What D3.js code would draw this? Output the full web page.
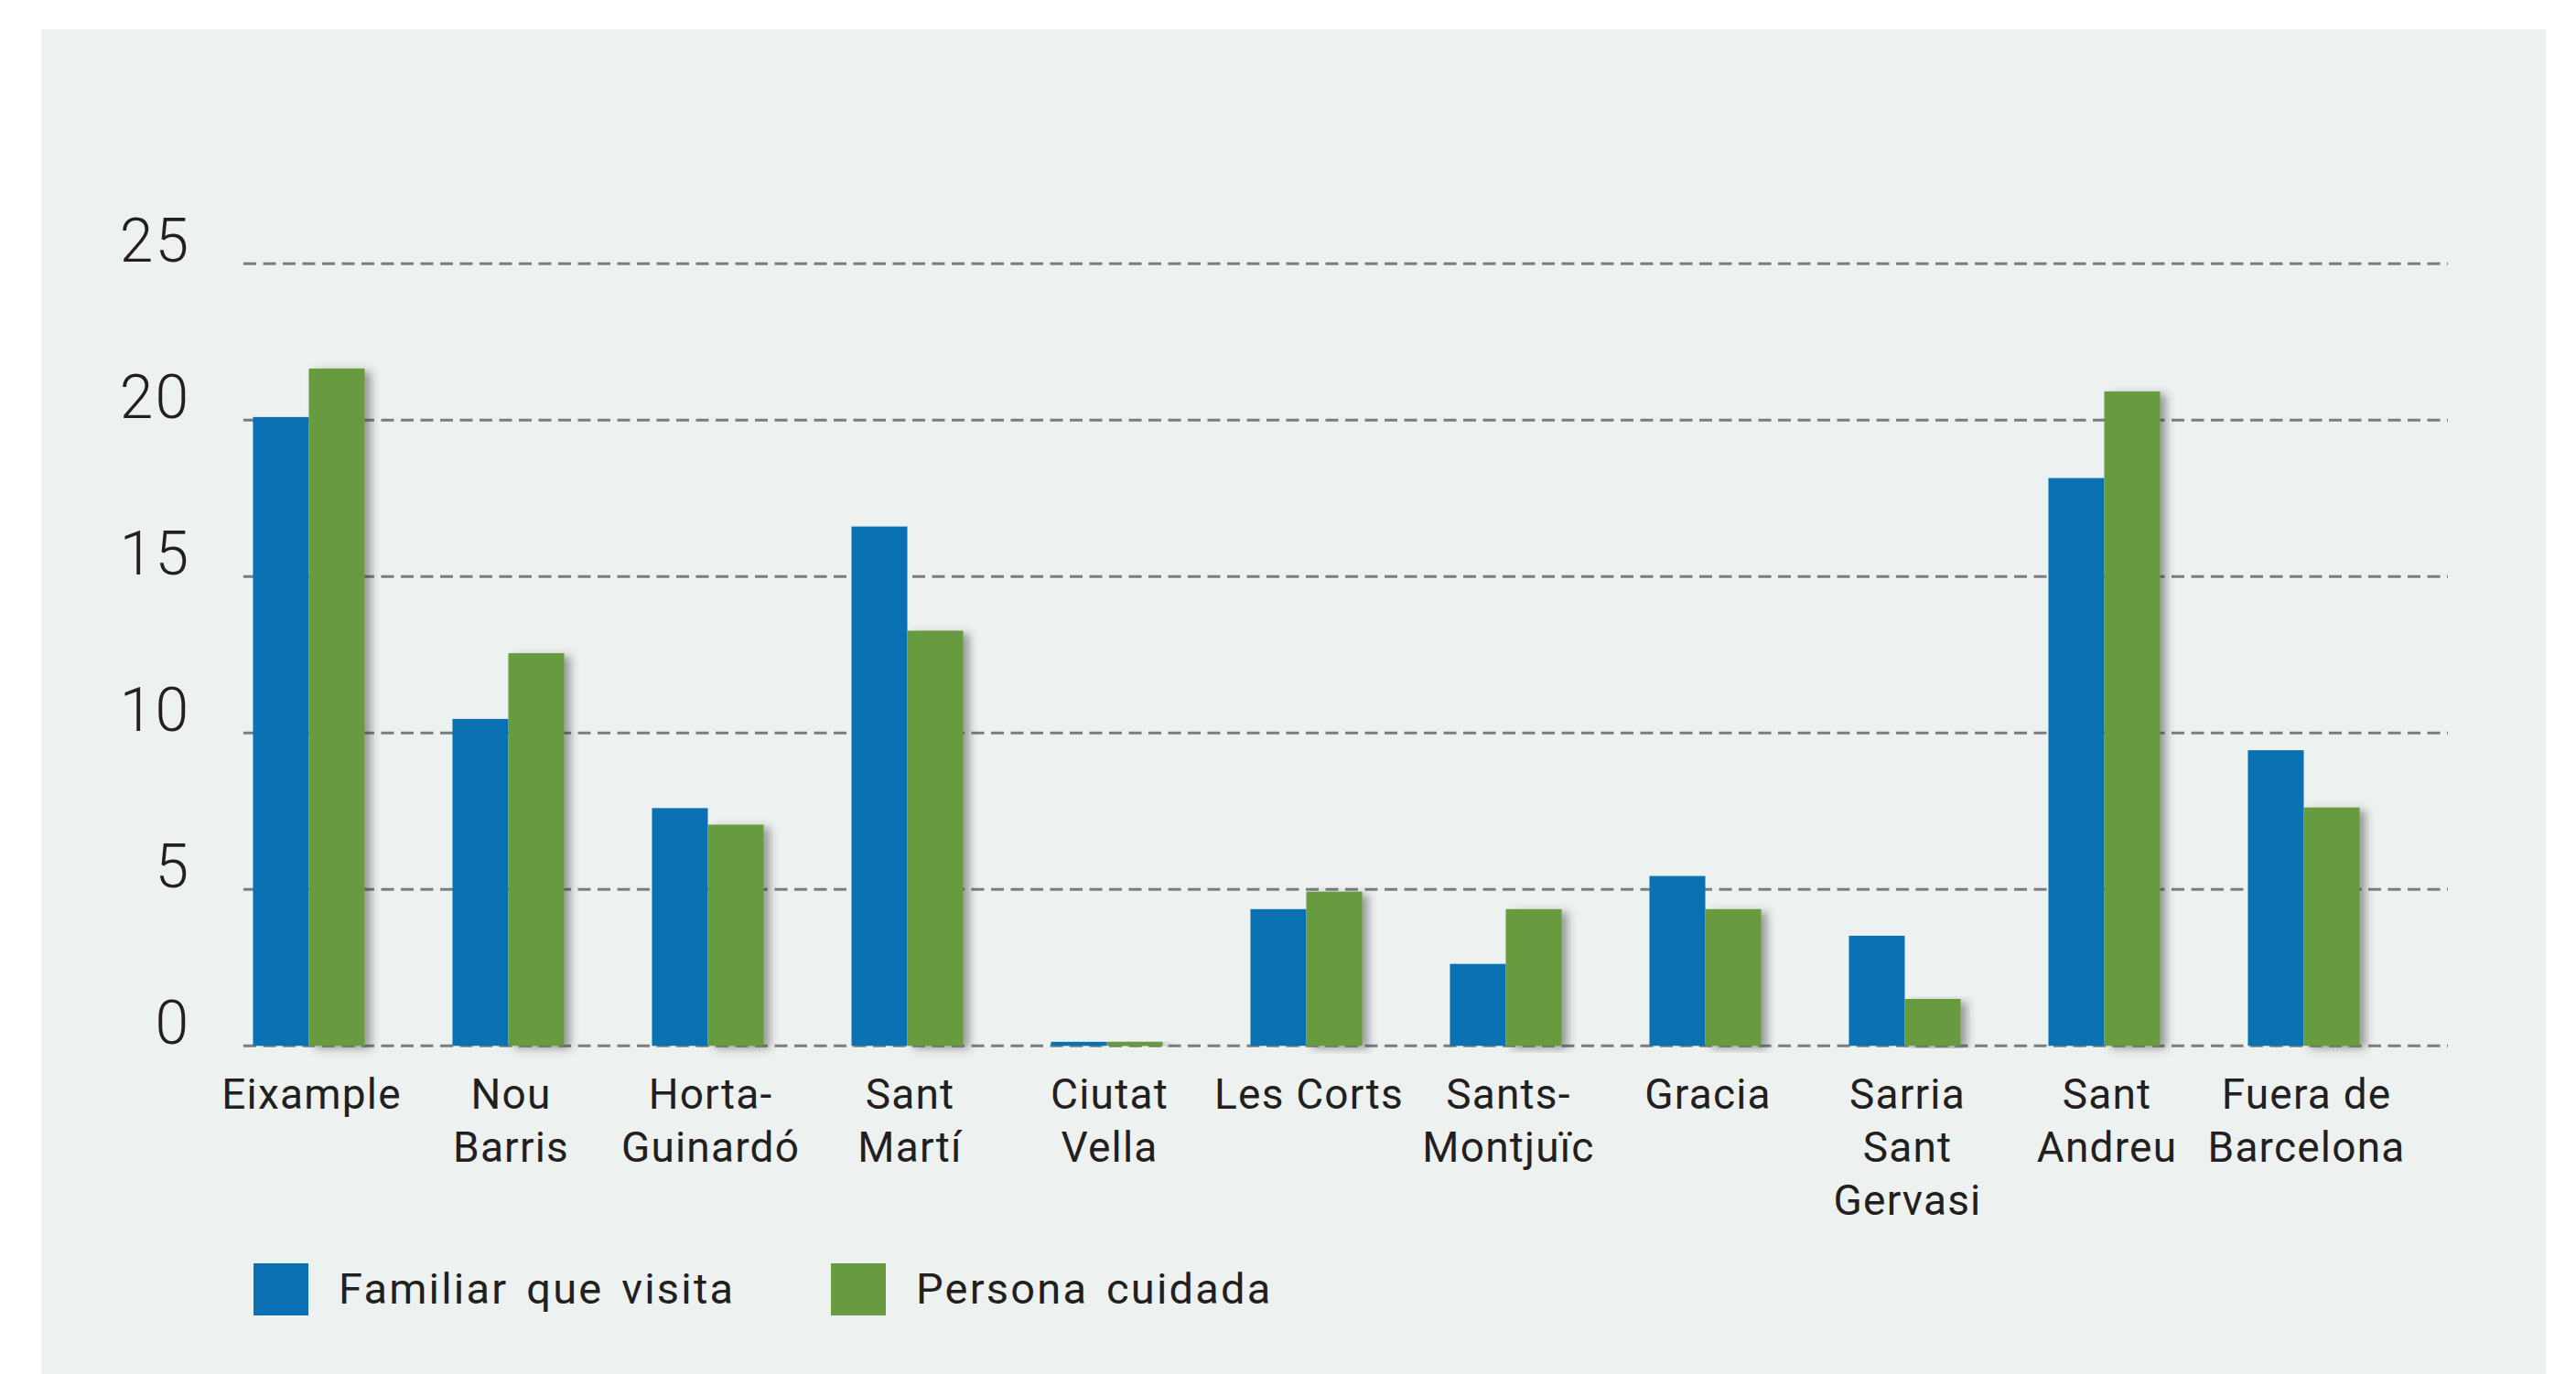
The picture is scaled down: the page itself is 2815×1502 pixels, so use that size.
<!DOCTYPE html>
<html>
<head>
<meta charset="utf-8">
<script src="https://cdn.jsdelivr.net/npm/d3@7"></script>
<style>
  body { margin: 0; background: #ffffff; }
  svg { display: block; }
</style>
</head>
<body>
<div id="chart"></div>
<script>
// district names (line breaks as in the original figure)
var districts = [
    ["Eixample"], ["Nou", "Barris"], ["Horta-", "Guinardó"], ["Sant", "Martí"],
    ["Ciutat", "Vella"], ["Les Corts"], ["Sants-", "Montjuïc"], ["Gracia"],
    ["Sarria", "Sant", "Gervasi"], ["Sant", "Andreu"], ["Fuera de", "Barcelona"]
];
var seriesNames = ["Familiar que visita", "Persona cuidada"];
var familiar = [20.1, 10.45, 7.6, 16.6, 0.13, 4.37, 2.62, 5.43, 3.52, 18.15, 9.45];
var persona  = [21.65, 12.55, 7.07, 13.27, 0.13, 4.93, 4.37, 4.37, 1.5, 20.92, 7.62];
var yTicks = [0, 5, 10, 15, 20, 25];
var colors = ["#0a71b3", "#689a40"];

var width = 2815, height = 1502;

var rows = districts.map(function(d, i) {
    return { key: d.join(" "), lines: d, values: [familiar[i], persona[i]] };
});

var svg = d3.select("#chart").append("svg")
    .attr("width", width)
    .attr("height", height);

var defs = svg.append("defs");
var shadow = defs.append("filter")
    .attr("id", "shadow")
    .attr("x", "-20%").attr("y", "-5%")
    .attr("width", "160%").attr("height", "110%");
shadow.append("feDropShadow")
    .attr("dx", 7).attr("dy", 3)
    .attr("stdDeviation", 5)
    .attr("flood-color", "#333")
    .attr("flood-opacity", 0.45);

// panel background
svg.append("rect")
    .attr("x", 45).attr("y", 32)
    .attr("width", 2737).attr("height", height - 32)
    .attr("fill", "#edf1f0");

var y = d3.scaleLinear().domain([0, 25]).range([1143.3, 288.3]);

var x = d3.scaleBand()
    .domain(rows.map(function(d) { return d.key; }))
    .range([228.5, 228.5 + 218 * rows.length])
    .paddingInner(0.44)
    .paddingOuter(0.22);

var xSub = d3.scaleBand()
    .domain([0, 1])
    .range([0, x.bandwidth()]);

// dashed grid lines
var grid = svg.append("g");
grid.selectAll("line")
    .data(yTicks)
    .enter()
    .append("line")
    .attr("x1", 266)
    .attr("x2", 2675)
    .attr("y1", function(d) { return y(d); })
    .attr("y2", function(d) { return y(d); })
    .attr("stroke", "#7b7c7d")
    .attr("stroke-width", 3)
    .attr("stroke-dasharray", "14,7.5");

// y tick labels
svg.append("g")
    .selectAll("text")
    .data(yTicks)
    .enter()
    .append("text")
    .attr("x", 208)
    .attr("y", function(d) { return y(d) - 2; })
    .attr("text-anchor", "end")
    .attr("font-family", "Roboto, sans-serif")
    .attr("font-weight", 300)
    .attr("font-size", 66)
    .attr("letter-spacing", 2)
    .attr("fill", "#231f20")
    .text(function(d) { return d; });

// bars
var groups = svg.append("g")
    .selectAll("g")
    .data(rows)
    .enter()
    .append("g")
    .attr("transform", function(d) { return "translate(" + x(d.key) + ",0)"; });

groups.selectAll("rect")
    .data(function(d) { return d.values.map(function(v, j) { return { s: j, v: v }; }); })
    .enter()
    .append("rect")
    .attr("x", function(d) { return xSub(d.s); })
    .attr("y", function(d) { return y(d.v); })
    .attr("width", xSub.bandwidth())
    .attr("height", function(d) { return y(0) - y(d.v); })
    .attr("fill", function(d) { return colors[d.s]; })
    .attr("filter", function(d) { return d.s === 1 ? "url(#shadow)" : null; });

// x labels
var labels = svg.append("g")
    .selectAll("text")
    .data(rows)
    .enter()
    .append("text")
    .attr("text-anchor", "middle")
    .attr("font-family", "Roboto, sans-serif")
    .attr("font-size", 46)
    .attr("letter-spacing", 1.2)
    .attr("fill", "#231f20")
    .attr("transform", function(d) {
        return "translate(" + (x(d.key) + x.bandwidth() / 2 + 3) + ",1212)";
    });

labels.selectAll("tspan")
    .data(function(d) { return d.lines; })
    .enter()
    .append("tspan")
    .attr("x", 0)
    .attr("y", function(d, i) { return i * 58; })
    .text(function(d) { return d; });

// legend
var legendX = [277, 908];
var legend = svg.append("g")
    .selectAll("g")
    .data(seriesNames)
    .enter()
    .append("g")
    .attr("transform", function(d, i) { return "translate(" + legendX[i] + ",1381)"; });

legend.append("rect")
    .attr("width", 60)
    .attr("height", 57)
    .attr("fill", function(d, i) { return colors[i]; });

legend.append("text")
    .attr("x", 93)
    .attr("y", 44)
    .attr("font-family", "Roboto, sans-serif")
    .attr("font-size", 47)
    .attr("letter-spacing", 2.2)
    .attr("word-spacing", 6)
    .attr("fill", "#231f20")
    .text(function(d) { return d; });
</script>
</body>
</html>
